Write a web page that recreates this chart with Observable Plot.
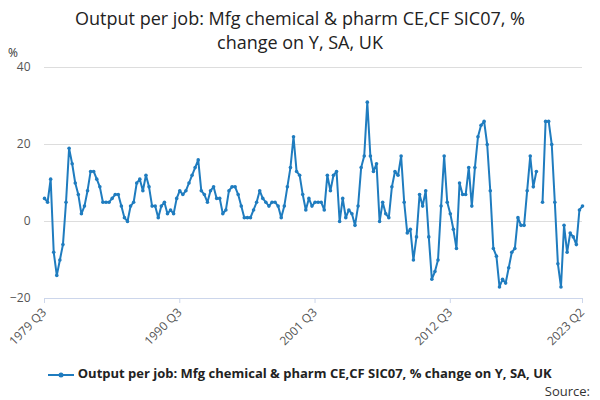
<!DOCTYPE html>
<html><head><meta charset="utf-8">
<script src="https://cdn.jsdelivr.net/npm/d3@7"></script>
<script src="https://cdn.jsdelivr.net/npm/@observablehq/plot@0.6"></script>
<style>
body{margin:0;font-family:"Open Sans",sans-serif;background:#fff;width:600px;height:400px;overflow:hidden;position:relative}
#title{text-align:center;font-size:18px;color:#222;line-height:24px;padding-top:6px;height:49px}
#pct{position:absolute;left:8px;top:44px;font-size:12px;color:#333}
#legend{position:absolute;top:364px;left:0;width:600px;text-align:center;font-size:13px;font-weight:bold;color:#222}
#source{position:absolute;top:382px;right:10px;font-size:13px;color:#333}
</style></head><body>
<div id="title">Output per job: Mfg chemical &amp; pharm CE,CF SIC07, %<br>change on Y, SA, UK</div>
<div id="pct">%</div>
<div id="chart"></div>
<div id="legend"><svg width="26" height="10" style="vertical-align:middle"><line x1="0" y1="5" x2="26" y2="5" stroke="#1f7cbf" stroke-width="2"/><circle cx="13" cy="5" r="2.5" fill="#1f7cbf"/></svg> Output per job: Mfg chemical &amp; pharm CE,CF SIC07, % change on Y, SA, UK</div>
<div id="source">Source:</div>
<script>
const values = [6,5,11,-8,-14,-10,-6,5,19,15,
10,7,2,4,8,13,13,11,9,5,
5,5,6,7,7,4,1,0,4,5,
10,11,8,12,9,4,4,1,4,5,
2,3,2,6,8,7,8,10,12,14,
16,8,7,5,8,9,6,6,2,3,
8,9,9,7,4,1,1,1,3,
5,8,6,5,4,5,5,4,1,
4,9,14,22,13,12,7,3,6,4,
5,5,5,3,12,8,12,13,0,6,
1,3,2,-1,4,14,17,31,17,13,
15,0,5,2,1,9,13,12,17,5,
-3,-2,-10,-4,7,4,8,-4,-15,-13,
-10,4,17,5,2,-2,-7,10,7,7,
14,4,14,22,25,26,20,8,-7,-9,
-17,-15,-16,-12,-8,-7,1,-1,-1,8,
17,9,13,null,5,26,26,20,5,-11,
-17,-1,-8,-3,-4,-6,3,4];
const startYear = 1979, startQ = 3;
const labels = values.map((_, i) => { const q = startQ - 1 + i; return `${startYear + Math.floor(q/4)} Q${q%4+1}`; });
const data = values.map((v, i) => ({i, v, label: labels[i]}));
const tickIdx = [0, 44, 88, 132, values.length - 1];
const yTicks = [-20, 0, 20, 40];
const color = "#1f7cbf";
const plot = Plot.plot({
  width: 600, height: 298,
  marginTop: 12, marginBottom: 55, marginLeft: 44, marginRight: 18,
  style: {fontFamily: "Open Sans, sans-serif", fontSize: "12px", color: "#555"},
  x: {domain: [0, values.length - 1], ticks: tickIdx, tickFormat: i => labels[i], tickRotate: -45, label: null, tickSize: 5},
  y: {domain: [-20, 40], ticks: yTicks, label: null, tickSize: 0, tickPadding: 14},
  marks: [
    Plot.gridY(yTicks, {stroke: "#ddd", strokeOpacity: 1}),
    Plot.ruleY([-20], {stroke: "#ccd6eb"}),
    Plot.line(data, {x: "i", y: "v", stroke: color, strokeWidth: 2}),
    Plot.dot(data.filter(d => d.v != null), {x: "i", y: "v", r: 1.8, fill: color})
  ]
});
plot.querySelectorAll('[aria-label="x-axis tick"] path').forEach(p=>p.setAttribute("stroke","#ccd6eb"));
document.getElementById("chart").appendChild(plot);
</script>
</body></html>
